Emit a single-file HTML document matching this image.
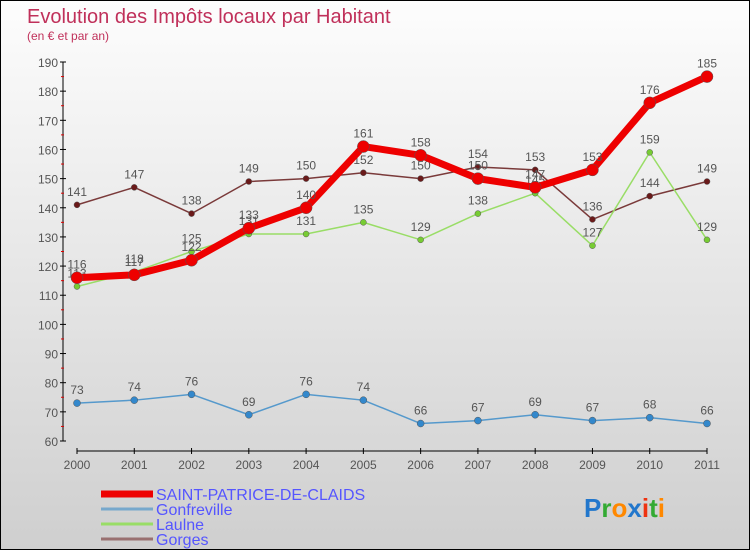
<!DOCTYPE html>
<html><head><meta charset="utf-8"><style>
body{margin:0}
#c{width:750px;height:550px;position:relative;overflow:hidden;background:linear-gradient(#fdfdfd,#cfcfcf);border:1px solid #000;box-sizing:border-box;font-family:"Liberation Sans",sans-serif}
</style></head><body>
<div id="c">
<svg id="s" width="750" height="550" style="position:absolute;left:0;top:0">
<text x="26" y="22" font-size="20" fill="#c0305a">Evolution des Impôts locaux par Habitant</text>
<text x="26" y="39" font-size="12" fill="#c0305a">(en € et par an)</text>
</svg>
</div>
<script>
const years=["2000","2001","2002","2003","2004","2005","2006","2007","2008","2009","2010","2011"];
const stPatrice=[116,117,122,133,140,161,158,150,147,153,176,185];
const gonfreville=[73,74,76,69,76,74,66,67,69,67,68,66];
const laulne=[113,118,125,131,131,135,129,138,145,127,159,129];
const gorges=[141,147,138,149,150,152,150,154,153,136,144,149];
const yTicks=[60,70,80,90,100,110,120,130,140,150,160,170,180,190];
const s=document.getElementById('s');const NS='http://www.w3.org/2000/svg';
function X(i){return 76+i*(706-76)/(years.length-1);}
function Y(v){return 440-(v-60)*(440-61)/130;}
function mk(t,a,p){const e=document.createElementNS(NS,t);for(const k in a)e.setAttribute(k,a[k]);(p||s).appendChild(e);return e;}
let e=mk('line',{x1:62,y1:Y(190),x2:62,y2:Y(60),stroke:'#000','stroke-width':1});

e=mk('line',{x1:76,y1:450,x2:706,y2:450,stroke:'#000','stroke-width':1});

yTicks.forEach(v=>{mk('line',{x1:59,y1:Y(v),x2:65,y2:Y(v),stroke:'#000'});
 if(v<190)mk('line',{x1:60,y1:Y(v+5),x2:63,y2:Y(v+5),stroke:'#d00'});
 const t=mk('text',{x:57,y:Y(v)+5,'font-size':12,fill:'#555','text-anchor':'end'});t.textContent=v;
 });
years.forEach((y,i)=>{mk('line',{x1:X(i),y1:447,x2:X(i),y2:453,stroke:'#000'});
 const t=mk('text',{x:X(i),y:468,'font-size':12,fill:'#555','text-anchor':'middle'});t.textContent=y;
 });
function series(name,d,color,w,r,dot){
 const g=mk('g',{});
 mk('polyline',{points:d.map((v,i)=>X(i)+','+Y(v)).join(' '),fill:'none',stroke:color,'stroke-width':w,'stroke-linejoin':'round'},g);
 d.forEach((v,i)=>{const c=mk('circle',{cx:X(i),cy:Y(v),r:r,fill:dot,stroke:'#555','stroke-width':0.5},g);
  
  const t=mk('text',{x:X(i),y:Y(v)-9,'font-size':12,fill:'#555','text-anchor':'middle'},g);t.textContent=v;});
}
series('gorges',gorges,'#7a3a3a',1.5,3,'#6a1a1a');
series('laulne',laulne,'#99dd66',1.5,3,'#77cc33');
series('gonfreville',gonfreville,'#5599cc',1.5,3.5,'#3388cc');
series('saint-patrice',stPatrice,'#ee0000',7,6,'#ee0000');
const leg=[['SAINT-PATRICE-DE-CLAIDS','#ee0000',7],['Gonfreville','#77a8cc',3],['Laulne','#99dd66',3],['Gorges','#997070',3]];
leg.forEach((l,i)=>{const yy=493+i*15;const g=mk('g',{});
 mk('line',{x1:100,y1:yy,x2:152,y2:yy,stroke:l[1],'stroke-width':l[2]},g);
 const t=mk('text',{x:155,y:yy+6,'font-size':16,fill:'#5555ff'},g);t.textContent=l[0];});
const lg=mk('text',{x:583,y:516,'font-size':26,'font-weight':'bold'});
[['P','#2277cc'],['r','#33aa33'],['o','#ff8800'],['x','#2277cc'],['i','#ee3311'],['t','#33aa33'],['i','#ff8800']].forEach(p=>{const ts=mk('tspan',{fill:p[1]},lg);ts.textContent=p[0];});
</script>
</body></html>
